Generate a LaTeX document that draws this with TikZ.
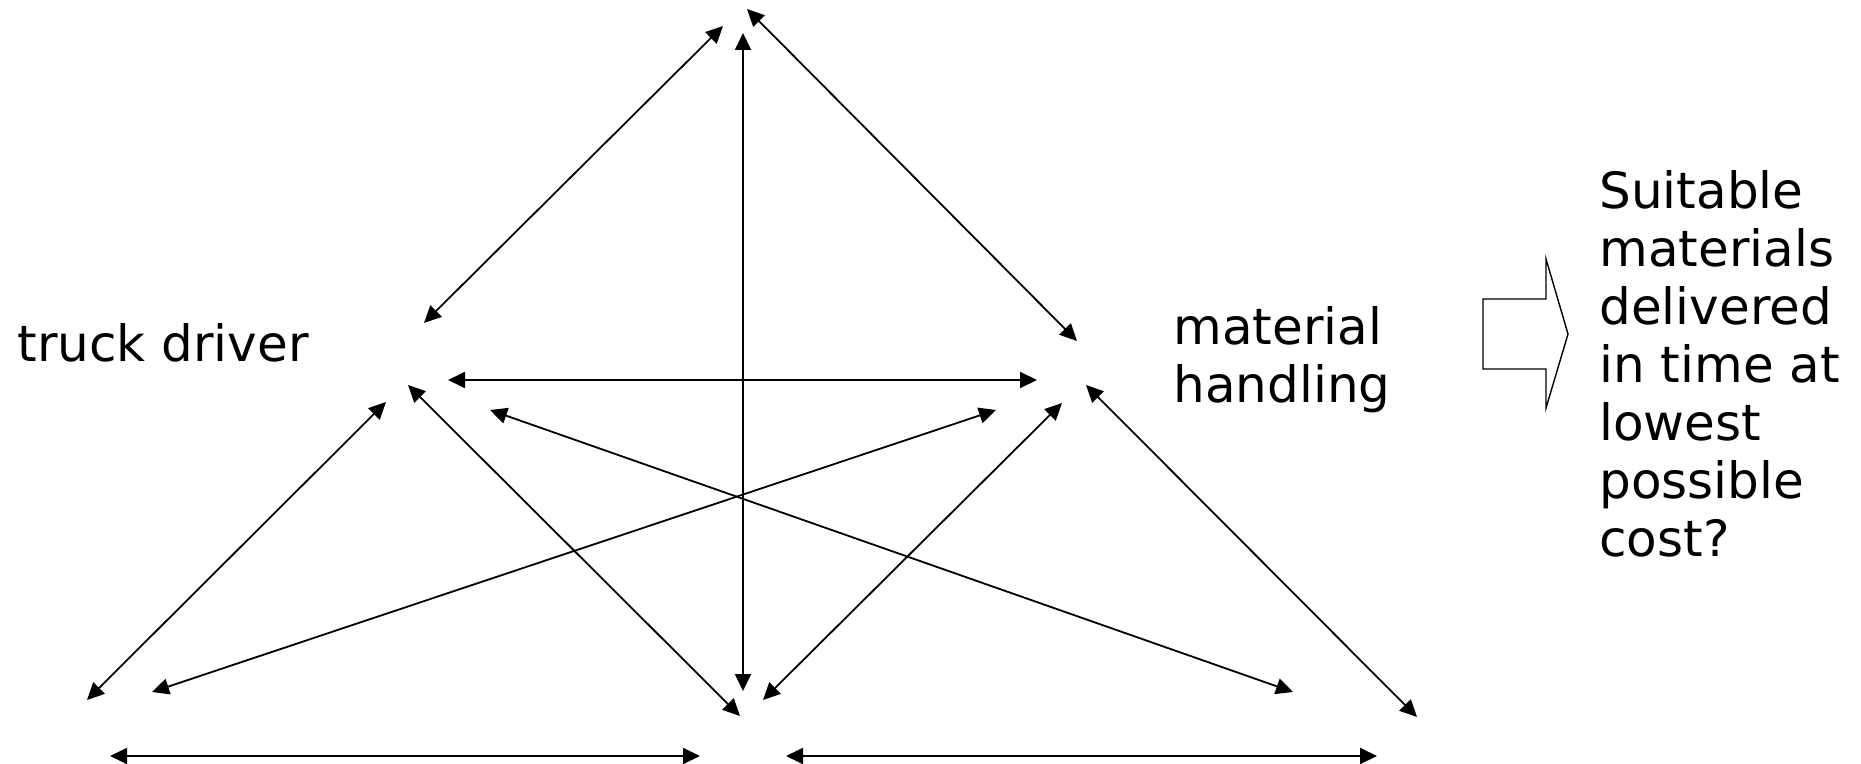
\documentclass[tikz,border=0pt]{standalone}
\usepackage{fontspec}
\setmainfont{DejaVu Sans}
\usetikzlibrary{arrows.meta}

\begin{document}
\begin{tikzpicture}[
  x=0.5pt,y=-0.5pt,
  link/.style={line width=0.9pt,{Triangle[length=8.5pt,width=8pt]}-{Triangle[length=8.5pt,width=8pt]}},
  label/.style={inner sep=0pt,font=\fontsize{25}{29}\selectfont,align=left},
  bigarrow/.style={draw,line width=0.7pt,line join=miter}
]
  \useasboundingbox (0,0) rectangle (1861,764);

  % arrow ends, named hub-toward
  \coordinate (t-l) at (723,26);   \coordinate (l-t) at (424,323);
  \coordinate (t-bm) at (743,33);  \coordinate (bm-t) at (743,691);
  \coordinate (t-r) at (747,9);    \coordinate (r-t) at (1077,341);
  \coordinate (l-r) at (448,380);  \coordinate (r-l) at (1037,380);
  \coordinate (l-bl) at (386,402); \coordinate (bl-l) at (87,700);
  \coordinate (l-bm) at (408,385); \coordinate (bm-l) at (740,716);
  \coordinate (l-br) at (490,410); \coordinate (br-l) at (1293,692);
  \coordinate (r-bl) at (996,410); \coordinate (bl-r) at (152,692);
  \coordinate (r-bm) at (1062,403);\coordinate (bm-r) at (763,700);
  \coordinate (r-br) at (1086,385);\coordinate (br-r) at (1417,717);
  \coordinate (bl-bm) at (110,756);\coordinate (bm-bl) at (700,756);
  \coordinate (bm-br) at (786,756);\coordinate (br-bm) at (1377,756);

  \foreach \a/\b in {t/l,t/bm,t/r,l/r,l/bl,l/bm,l/br,r/bl,r/bm,r/br,bl/bm,bm/br}
    \draw[link] (\a-\b) -- (\b-\a);

  \node[label,anchor=base west] (driver) at (17,361) {truck driver};
  \node[label,anchor=north west] (handling) at (1173,306) {material\\handling};
  \node[label,anchor=north west] (goal) at (1599,170)
    {Suitable\\materials\\delivered\\in time at\\lowest\\possible\\cost?};

  \draw[bigarrow] (1483,299) -- (1546,299) -- (1546,259) -- (1568,334)
    -- (1546,408) -- (1546,369) -- (1483,369) -- cycle;
\end{tikzpicture}
\end{document}
